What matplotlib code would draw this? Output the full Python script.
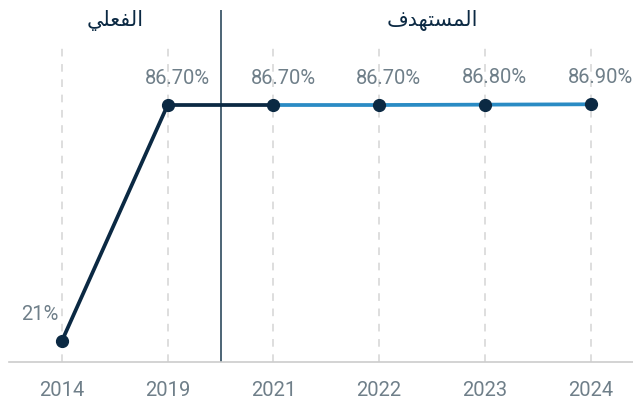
import matplotlib
matplotlib.use('Agg')
import matplotlib.pyplot as plt

# data
years = ['2014', '2019', '2021', '2022', '2023', '2024']
rates = [21.0, 86.7, 86.7, 86.7, 86.8, 86.9]
rate_labels = ['21%', '86.70%', '86.70%', '86.70%', '86.80%', '86.90%']
split_at = 2  # last index of the "actual" series (2021 joins both)
# arabic headings, shaped into presentation forms since matplotlib does no shaping
actual_title = '\uFEF2\uFEE0\uFECC\uFED4\uFEDF\uFE8D'            # الفعلي
target_title = '\uFED1\uFEAA\uFEEC\uFE98\uFEB4\uFEE4\uFEDF\uFE8D'  # المستهدف

navy = '#0b2943'
blue = '#2a8bc4'
grey_txt = '#6f7f89'

plt.rcParams['font.family'] = ['Roboto', 'DejaVu Sans']

fig = plt.figure(figsize=(6.33, 4.06), dpi=100, facecolor='white')
ax = fig.add_axes([9 / 633, 43 / 406, 624 / 633, 352 / 406])
xs = list(range(len(years)))

ax.set_xlim(-0.5, 5.4)
ax.set_ylim(15.15, 113.15)

# dashed guides
ax.vlines(xs, 15.15, 102.6, colors='#d4d4d4', linewidth=1.1,
          linestyles=(0, (5, 5)), zorder=1)
# actual / target separator
ax.axvline(1.5, color='#2e4a5e', linewidth=1.2, zorder=2)

ax.plot(xs[split_at:], rates[split_at:], color=blue, linewidth=2.7, zorder=3,
        solid_capstyle='round')
ax.plot(xs[:split_at + 1], rates[:split_at + 1], color=navy, linewidth=2.7,
        zorder=4, solid_joinstyle='round')
ax.plot(xs, rates, 'o', color=navy, markersize=8.5, zorder=5)

for i, (x, v, lab) in enumerate(zip(xs, rates, rate_labels)):
    dx = -16 if i == 0 else 7
    ax.annotate(lab, (x, v), xytext=(dx, 20), textcoords='offset points',
                ha='center', va='center', fontsize=14.5, color=grey_txt)

ax.text(0.5, 110.6, actual_title, ha='center', va='center', fontsize=15,
        color=navy, family='DejaVu Sans')
ax.text(3.5, 110.6, target_title, ha='center', va='center', fontsize=15,
        color=navy, family='DejaVu Sans')

ax.set_xticks(xs)
ax.set_xticklabels(years, fontsize=14.5, color=grey_txt)
ax.tick_params(axis='x', length=0, pad=13)
ax.set_yticks([])
for s in ['top', 'right', 'left']:
    ax.spines[s].set_visible(False)
ax.spines['bottom'].set_color('#cccccc')
ax.spines['bottom'].set_linewidth(1.2)
ax.set_facecolor('white')

fig.savefig('out.png', dpi=100, facecolor='white')
